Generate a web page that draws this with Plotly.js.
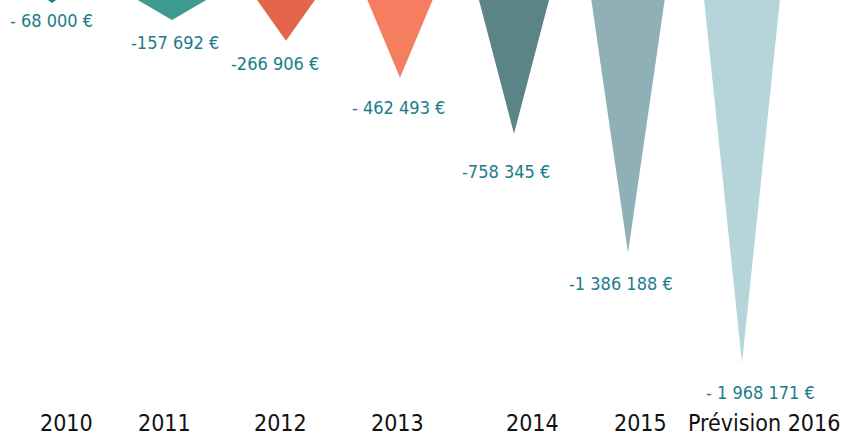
<!DOCTYPE html>
<html>
<head>
<meta charset="utf-8">
<script src="https://cdn.plot.ly/plotly-3.0.1.min.js"></script>
<style>html,body{margin:0;padding:0;background:#fff;}#chart{width:853px;height:440px;}</style>
</head>
<body>
<div id="chart"></div>
<script>
// ---- data ----
const years = ["2010", "2011", "2012", "2013", "2014", "2015", "Prévision 2016"];
const deficits = [68000, 157692, 266906, 462493, 758345, 1386188, 1968171];
const valueLabels = ["- 68 000 €", "-157 692 €", "-266 906 €", "- 462 493 €", "-758 345 €", "-1 386 188 €", "- 1 968 171 €"];

// ---- styles ----
const colors = ["#2b7a74", "#3d9a8e", "#e3654a", "#f57e60", "#5b8388", "#8fb0b6", "#b5d5db"];
const topHalfWidthPx = [12, 44, 33, 35, 36.5, 37.5, 38.5];
const tipShiftPx = [-6, 0, 0, 0, 0, 0, 0];
const labelDx = [-6.5, 3, -11, -2, -8, -7, 18];
const labelDy = [18, 23, 23.3, 29.3, 38.2, 30.3, 30];
const yearDx = [8, -8, -6, -3, 18, 12, 22];
const FONT = "DejaVu Sans Condensed, Liberation Sans, sans-serif";

const W = 853, H = 440;
const slotPx = 114;
const x0 = -58 / slotPx;
const xRange = [x0, W / slotPx + x0];
const yTop = -52254, yBottom = -2374644;
const pxPerUnitX = slotPx;

const traces = deficits.map((v, i) => {
  const hw = topHalfWidthPx[i] / pxPerUnitX;
  const c = i + tipShiftPx[i] / pxPerUnitX;
  return {
    type: "scatter", mode: "lines", fill: "toself",
    x: [c - hw, c + hw, c, c - hw],
    y: [yTop + 30000, yTop + 30000, -v, yTop + 30000],
    fillcolor: colors[i], line: {width: 0, color: colors[i]},
    hoverinfo: "skip", showlegend: false
  };
});

const annotations = [];
deficits.forEach((v, i) => {
  annotations.push({
    x: i, y: -v, xref: "x", yref: "y", text: valueLabels[i], showarrow: false,
    xanchor: "center", yanchor: "middle", xshift: labelDx[i], yshift: -labelDy[i],
    font: {family: FONT, size: 18, color: "#1b7b8c"}
  });
  annotations.push({
    x: i, y: 1 - 423 / H, xref: "x", yref: "paper", text: years[i], showarrow: false,
    xanchor: "center", yanchor: "middle", xshift: yearDx[i],
    font: {family: FONT, size: 23, color: "#111111"}
  });
});

const layout = {
  width: W, height: H,
  margin: {l: 0, r: 0, t: 0, b: 0},
  paper_bgcolor: "#ffffff", plot_bgcolor: "#ffffff",
  xaxis: {range: xRange, visible: false, fixedrange: true},
  yaxis: {range: [yBottom, yTop], visible: false, fixedrange: true},
  annotations: annotations,
  showlegend: false
};

Plotly.newPlot("chart", traces, layout, {displayModeBar: false, staticPlot: true});
</script>
</body>
</html>
